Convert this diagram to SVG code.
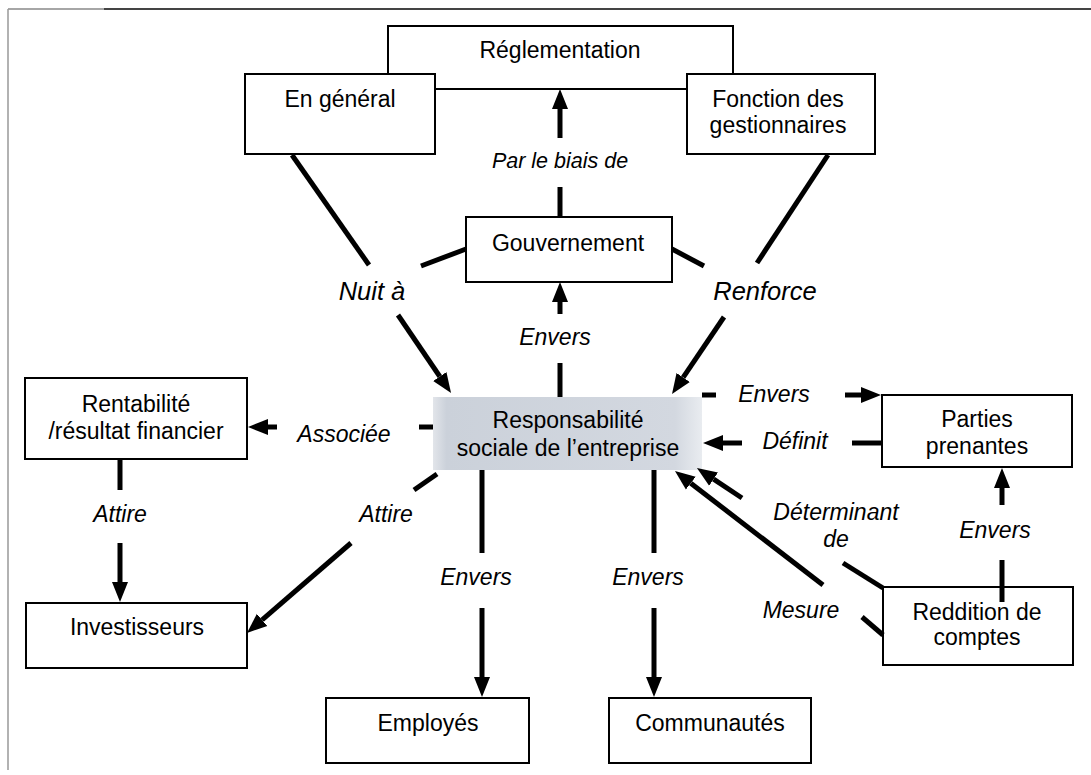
<svg xmlns="http://www.w3.org/2000/svg" width="1091" height="775" viewBox="0 0 1091 775">
<style>
.box{fill:#fff;stroke:#000;stroke-width:2}
.t{font-family:"Liberation Sans",Arial,sans-serif;font-size:23px;fill:#000;text-anchor:middle}
.l{font-family:"Liberation Sans",Arial,sans-serif;font-size:23px;font-style:italic;fill:#000;text-anchor:middle}
.c{stroke:#000;stroke-width:5;fill:none}
.a{stroke:#000;stroke-width:5;fill:none;marker-end:url(#ah)}
</style>
<defs>
<marker id="ah" markerUnits="userSpaceOnUse" markerWidth="22" markerHeight="18" viewBox="0 -9 22 18" refX="0" refY="0" orient="auto"><path d="M0,-8 L20,0 L0,8 z" fill="#000"/></marker>
<linearGradient id="rse" x1="0" y1="0" x2="1" y2="0">
<stop offset="0" stop-color="#e2e5ea"/><stop offset="0.05" stop-color="#cbd1da"/><stop offset="0.9" stop-color="#d3d8e0"/><stop offset="1" stop-color="#e9ecf0"/>
</linearGradient>
</defs>
<rect width="1091" height="775" fill="#fff"/>
<g id="frame">
<line x1="8" y1="9" x2="104" y2="9" stroke="#888" stroke-width="1.5"/>
<line x1="104" y1="9" x2="1091" y2="9" stroke="#444" stroke-width="2"/>
<line x1="8" y1="9" x2="8" y2="770" stroke="#999" stroke-width="1.5"/>
</g>
<g id="reglementation">
<rect class="box" x="388" y="26" width="345" height="63"/>
<text class="t" x="560" y="58">Réglementation</text>
</g>
<g id="en-general">
<rect class="box" x="245" y="74" width="190" height="80"/>
<text class="t" x="340" y="107">En général</text>
</g>
<g id="fonction">
<rect class="box" x="687" y="74" width="188" height="80"/>
<text class="t" x="778" y="107">Fonction des</text>
<text class="t" x="778" y="133">gestionnaires</text>
</g>
<g id="gouvernement">
<rect class="box" x="466" y="217" width="206" height="65"/>
<text class="t" x="568" y="251">Gouvernement</text>
</g>
<g id="rse">
<rect x="433" y="397" width="269" height="73" fill="url(#rse)"/>
<text class="t" x="568" y="428">Responsabilité</text>
<text class="t" x="568" y="456">sociale de l’entreprise</text>
</g>
<g id="rentabilite">
<rect class="box" x="25" y="378" width="222" height="81"/>
<text class="t" x="136" y="412">Rentabilité</text>
<text class="t" x="136" y="439">/résultat financier</text>
</g>
<g id="parties">
<rect class="box" x="882" y="395" width="190" height="72"/>
<text class="t" x="977" y="427">Parties</text>
<text class="t" x="977" y="454">prenantes</text>
</g>
<g id="investisseurs">
<rect class="box" x="26" y="603" width="221" height="65"/>
<text class="t" x="137" y="635">Investisseurs</text>
</g>
<g id="employes">
<rect class="box" x="326" y="698" width="203" height="65"/>
<text class="t" x="428" y="731">Employés</text>
</g>
<g id="communautes">
<rect class="box" x="609" y="698" width="202" height="65"/>
<text class="t" x="710" y="731">Communautés</text>
</g>
<g id="reddition">
<rect class="box" x="883" y="587" width="190" height="78"/>
<text class="t" x="977" y="620">Reddition de</text>
<text class="t" x="977" y="645">comptes</text>
</g>
<g id="connectors">
<line class="c" x1="560" y1="187" x2="560" y2="217"/>
<line class="a" x1="560" y1="138" x2="560" y2="109"/>
<line class="c" x1="560" y1="363" x2="560" y2="397"/>
<line class="a" x1="560" y1="314" x2="560" y2="302"/>
<line class="c" x1="292" y1="155" x2="369" y2="265"/>
<line class="c" x1="466" y1="249" x2="421" y2="266"/>
<line class="a" x1="398" y1="315" x2="439.8" y2="376.5"/>
<line class="c" x1="828" y1="155" x2="757" y2="263"/>
<line class="c" x1="672" y1="249" x2="704" y2="266"/>
<line class="a" x1="724" y1="317" x2="683.2" y2="377.4"/>
<line class="c" x1="702" y1="395" x2="716" y2="395"/>
<line class="a" x1="845" y1="395" x2="861" y2="395"/>
<line class="c" x1="881" y1="443" x2="852" y2="443"/>
<line class="a" x1="742" y1="443" x2="723" y2="443"/>
<line class="c" x1="433" y1="427" x2="419" y2="427"/>
<line class="a" x1="277" y1="427" x2="268" y2="427"/>
<line class="c" x1="120" y1="460" x2="120" y2="490"/>
<line class="a" x1="120" y1="543" x2="120" y2="582"/>
<line class="c" x1="437" y1="474" x2="414" y2="490"/>
<line class="a" x1="351" y1="543" x2="262.1" y2="619.9"/>
<line class="c" x1="482" y1="470" x2="482" y2="553"/>
<line class="a" x1="482" y1="608" x2="482" y2="677"/>
<line class="c" x1="654" y1="470" x2="654" y2="553"/>
<line class="a" x1="654" y1="608" x2="654" y2="677"/>
<line class="c" x1="1002" y1="560" x2="1002" y2="602"/>
<line class="a" x1="1002" y1="505" x2="1002" y2="488"/>
<line class="c" x1="883" y1="588" x2="843" y2="563"/>
<line class="a" x1="742" y1="498" x2="713.6" y2="479.1"/>
<line class="c" x1="883" y1="635" x2="862" y2="617"/>
<line class="a" x1="823" y1="585" x2="690.8" y2="483.2"/>
</g>
<g id="labels">
<text class="l" x="560" y="168" style="font-size:21.5px">Par le biais de</text>
<text class="l" x="372" y="300" style="font-size:25.5px">Nuit à</text>
<text class="l" x="765" y="300" style="font-size:25.5px">Renforce</text>
<text class="l" x="555" y="345">Envers</text>
<text class="l" x="774" y="402">Envers</text>
<text class="l" x="795" y="449">Définit</text>
<text class="l" x="344" y="442">Associée</text>
<text class="l" x="120" y="522">Attire</text>
<text class="l" x="386" y="522">Attire</text>
<text class="l" x="836" y="520">Déterminant</text>
<text class="l" x="836" y="547">de</text>
<text class="l" x="995" y="538">Envers</text>
<text class="l" x="476" y="585">Envers</text>
<text class="l" x="648" y="585">Envers</text>
<text class="l" x="801" y="618">Mesure</text>
</g>
</svg>
